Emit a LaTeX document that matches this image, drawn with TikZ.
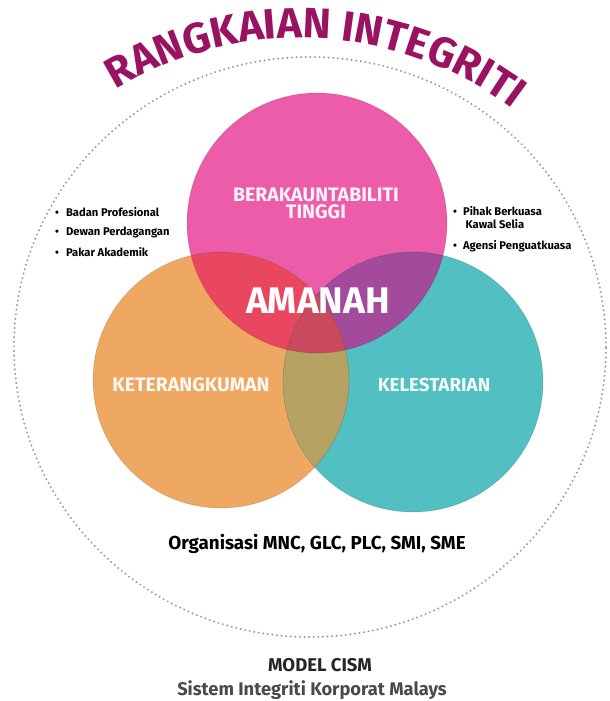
\documentclass[tikz,border=0pt]{standalone}
\usepackage{fontspec}
\setmainfont{Fira Sans}
\usetikzlibrary{decorations.text}
\definecolor{titlec}{HTML}{9A1262}
\definecolor{pinkc}{HTML}{EC5CA8}
\definecolor{orangec}{HTML}{EFA862}
\definecolor{tealc}{HTML}{52BFC2}
\definecolor{redc}{HTML}{E8475F}
\definecolor{purplec}{HTML}{A34A9D}
\definecolor{olivec}{HTML}{B6A262}
\definecolor{triplec}{HTML}{C84A5C}
\definecolor{dotc}{HTML}{9A9A9A}
\definecolor{greyc}{HTML}{4A4A4A}
\tikzset{
  dotring/.style={draw=dotc, line width=2.2pt, line cap=round, dash pattern=on 0pt off 4.6pt},
  rim/.style={draw=black, draw opacity=0.12, line width=0.8pt},
  inlabel/.style={text=white, text opacity=0.93, font=\bfseries\fontsize{19.5}{19}\selectfont, align=center},
  bullet/.style={anchor=west, font=\bfseries\fontsize{11.2}{12}\selectfont, text=black, inner sep=0pt, align=left},
}
\begin{document}
\begin{tikzpicture}[x=1pt,y=-1pt]
\useasboundingbox (0,0) rectangle (610,701);
% dotted outer ring
\coordinate (C) at (310,347);
\draw[dotring] (C) ellipse[x radius=296pt, y radius=290pt];
% title on arc
\coordinate (TC) at (300,391);
\path[decorate, decoration={text along path, text align=left,
  text={|\color{titlec}\bfseries\fontsize{42.5}{42}\selectfont|RANGKAIAN INTEGRITI}}]
  (TC) ++(121.5:353pt) arc[start angle=121.5, end angle=35, radius=353pt];
% circles
\coordinate (P) at (317,223);
\coordinate (O) at (221,380);
\coordinate (T) at (413,382);
\fill[pinkc] (P) circle[radius=130pt];
\fill[orangec] (O) circle[radius=128pt];
\fill[tealc] (T) circle[radius=130pt];
\begin{scope}
  \clip (P) circle[radius=130pt];
  \fill[redc] (O) circle[radius=128pt];
  \fill[purplec] (T) circle[radius=130pt];
\end{scope}
\begin{scope}
  \clip (O) circle[radius=128pt];
  \clip (T) circle[radius=130pt];
  \fill[olivec] (T) circle[radius=130pt];
  \clip (P) circle[radius=130pt];
  \fill[triplec] (T) circle[radius=130pt];
\end{scope}
\draw[rim] (P) circle[radius=130pt];
\draw[rim] (O) circle[radius=128pt];
\draw[rim] (T) circle[radius=130pt];
% labels in circles
\node[inlabel] (berak) at (316,203) {BERAKAUNTABILITI\\[-2pt]TINGGI};
\node[text=white, font=\bfseries\fontsize{37}{37}\selectfont] (amanah) at (318,301) {AMANAH};
\node[inlabel] (keter) at (191,385) {KETERANGKUMAN};
\node[inlabel, font=\bfseries\fontsize{18.8}{19}\selectfont] (keles) at (434,385) {KELESTARIAN};
% bullets left
\node[bullet] (b1) at (55,212) {•\hspace{7pt}Badan Profesional};
\node[bullet] (b2) at (55,232) {•\hspace{7pt}Dewan Perdagangan};
\node[bullet] (b3) at (55,252) {•\hspace{7pt}Pakar Akademik};
% bullets right
\node[bullet] (r1) at (453,211) {•\hspace{6pt}Pihak Berkuasa};
\node[bullet] (r1b) at (465.5,224) {Kawal Selia};
\node[bullet] (r2) at (453,246) {•\hspace{6pt}Agensi Penguatkuasa};
% bottom texts
\node[font=\bfseries\fontsize{18.8}{19}\selectfont, text=black] (org) at (317,544) {Organisasi MNC, GLC, PLC, SMI, SME};
\node[font=\bfseries\fontsize{18.5}{19}\selectfont, text=black!85] (model) at (320,665) {MODEL CISM};
\node[font=\bfseries\fontsize{18.3}{19}\selectfont, text=greyc] (sistem) at (312,690) {Sistem Integriti Korporat Malays};
\end{tikzpicture}
\end{document}
